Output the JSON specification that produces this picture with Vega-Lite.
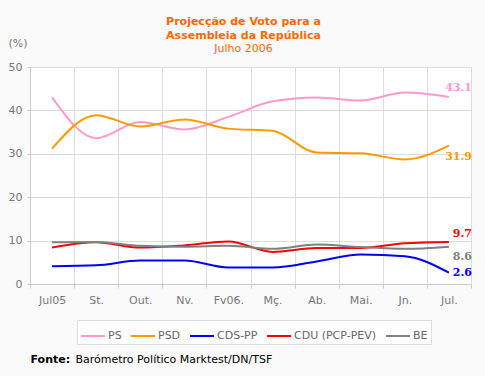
{
  "$schema": "https://vega.github.io/schema/vega-lite/v6.json",
  "width": 441,
  "height": 217,
  "autosize": {"type": "none"},
  "padding": {"left": 30, "top": 67, "right": 14, "bottom": 92},
  "background": "#FAFAFA",
  "title": {
    "text": ["Projecção de Voto para a", "Assembleia da República"],
    "subtitle": "Julho 2006",
    "anchor": "middle",
    "frame": "group",
    "color": "#FF6600",
    "font": "DejaVu Sans",
    "fontSize": 11,
    "fontWeight": "bold",
    "lineHeight": 14,
    "subtitleColor": "#FF6600",
    "subtitleFont": "DejaVu Sans",
    "subtitleFontSize": 11,
    "subtitleFontWeight": "normal",
    "subtitlePadding": 2,
    "offset": -17,
    "dx": -7
  },
  "data": {
    "values": [
      {"month": "Jul05", "party": "PS", "value": 43.0},
      {"month": "St.", "party": "PS", "value": 33.6},
      {"month": "Out.", "party": "PS", "value": 37.3},
      {"month": "Nv.", "party": "PS", "value": 35.6},
      {"month": "Fv06.", "party": "PS", "value": 38.5},
      {"month": "Mç.", "party": "PS", "value": 42.1},
      {"month": "Ab.", "party": "PS", "value": 43.0},
      {"month": "Mai.", "party": "PS", "value": 42.3},
      {"month": "Jn.", "party": "PS", "value": 44.1},
      {"month": "Jul.", "party": "PS", "value": 43.1},
      {"month": "Jul05", "party": "PSD", "value": 31.2},
      {"month": "St.", "party": "PSD", "value": 38.9},
      {"month": "Out.", "party": "PSD", "value": 36.3},
      {"month": "Nv.", "party": "PSD", "value": 37.9},
      {"month": "Fv06.", "party": "PSD", "value": 35.8},
      {"month": "Mç.", "party": "PSD", "value": 35.3},
      {"month": "Ab.", "party": "PSD", "value": 30.3},
      {"month": "Mai.", "party": "PSD", "value": 30.1},
      {"month": "Jn.", "party": "PSD", "value": 28.7},
      {"month": "Jul.", "party": "PSD", "value": 31.9},
      {"month": "Jul05", "party": "CDS-PP", "value": 4.1},
      {"month": "St.", "party": "CDS-PP", "value": 4.3},
      {"month": "Out.", "party": "CDS-PP", "value": 5.4},
      {"month": "Nv.", "party": "CDS-PP", "value": 5.4},
      {"month": "Fv06.", "party": "CDS-PP", "value": 3.8},
      {"month": "Mç.", "party": "CDS-PP", "value": 3.8},
      {"month": "Ab.", "party": "CDS-PP", "value": 5.2},
      {"month": "Mai.", "party": "CDS-PP", "value": 6.8},
      {"month": "Jn.", "party": "CDS-PP", "value": 6.4},
      {"month": "Jul.", "party": "CDS-PP", "value": 2.6},
      {"month": "Jul05", "party": "CDU (PCP-PEV)", "value": 8.4},
      {"month": "St.", "party": "CDU (PCP-PEV)", "value": 9.6},
      {"month": "Out.", "party": "CDU (PCP-PEV)", "value": 8.4},
      {"month": "Nv.", "party": "CDU (PCP-PEV)", "value": 8.9},
      {"month": "Fv06.", "party": "CDU (PCP-PEV)", "value": 9.8},
      {"month": "Mç.", "party": "CDU (PCP-PEV)", "value": 7.4},
      {"month": "Ab.", "party": "CDU (PCP-PEV)", "value": 8.3},
      {"month": "Mai.", "party": "CDU (PCP-PEV)", "value": 8.3},
      {"month": "Jn.", "party": "CDU (PCP-PEV)", "value": 9.4},
      {"month": "Jul.", "party": "CDU (PCP-PEV)", "value": 9.7},
      {"month": "Jul05", "party": "BE", "value": 9.6},
      {"month": "St.", "party": "BE", "value": 9.7},
      {"month": "Out.", "party": "BE", "value": 8.8},
      {"month": "Nv.", "party": "BE", "value": 8.6},
      {"month": "Fv06.", "party": "BE", "value": 8.8},
      {"month": "Mç.", "party": "BE", "value": 8.1},
      {"month": "Ab.", "party": "BE", "value": 9.1},
      {"month": "Mai.", "party": "BE", "value": 8.5},
      {"month": "Jn.", "party": "BE", "value": 8.1},
      {"month": "Jul.", "party": "BE", "value": 8.6}
    ]
  },
  "layer": [
    {
      "mark": {"type": "line", "interpolate": "monotone", "strokeWidth": 2},
      "encoding": {
        "x": {
          "field": "month", "type": "ordinal",
          "sort": ["Jul05", "St.", "Out.", "Nv.", "Fv06.", "Mç.", "Ab.", "Mai.", "Jn.", "Jul."],
          "scale": {"type": "band", "paddingInner": 0, "paddingOuter": 0},
          "axis": {
            "orient": "bottom", "grid": true, "tickBand": "extent", "labelAngle": 0,
            "tickSize": 4, "labelPadding": 6,
            "title": "Barómetro Político Marktest/DN/TSF",
            "titleX": 45, "titleY": 75, "titleAlign": "left", "titleBaseline": "middle",
            "titleAnchor": null, "titleColor": "#000000", "titleFontWeight": "normal",
            "titleFont": "DejaVu Sans", "titleFontSize": 11
          }
        },
        "y": {
          "field": "value", "type": "quantitative",
          "scale": {"domain": [0, 50], "nice": false},
          "axis": {
            "values": [0, 10, 20, 30, 40, 50], "grid": true, "tickSize": 3, "labelPadding": 5,
            "title": "(%)", "titleAngle": 0, "titleX": -22, "titleY": -24,
            "titleAlign": "left", "titleBaseline": "middle", "titleColor": "#777777",
            "titleFontWeight": "normal", "titleFont": "DejaVu Sans", "titleFontSize": 11
          }
        },
        "color": {
          "field": "party", "type": "nominal",
          "scale": {
            "domain": ["PS", "PSD", "CDS-PP", "CDU (PCP-PEV)", "BE"],
            "range": ["#FF99CC", "#FF9900", "#0000FF", "#FF0000", "#808080"]
          },
          "legend": {
            "orient": "none", "legendX": 47, "legendY": 253, "direction": "horizontal",
            "title": null, "symbolType": "stroke", "symbolSize": 576, "symbolStrokeWidth": 2,
            "labelFontSize": 11, "labelColor": "#666666", "labelFont": "DejaVu Sans",
            "fillColor": "white", "strokeColor": "#dddddd", "padding": 3,
            "columnPadding": 5, "labelOffset": 2
          }
        }
      }
    },
    {
      "transform": [{"filter": "datum.party === 'PS' && datum.month === 'Jul.'"}],
      "mark": {"type": "text", "align": "right", "dx": 23, "dy": -9, "font": "DejaVu Serif", "fontWeight": "bold", "fontSize": 11},
      "encoding": {
        "x": {
          "field": "month", "type": "ordinal",
          "sort": ["Jul05", "St.", "Out.", "Nv.", "Fv06.", "Mç.", "Ab.", "Mai.", "Jn.", "Jul."],
          "axis": {
            "orient": "top", "labels": false, "ticks": false, "domain": false, "grid": false,
            "title": "Fonte:", "titleX": 0, "titleY": 292, "titleAlign": "left", "titleBaseline": "middle",
            "titleAnchor": null, "titleColor": "#000000", "titleFontWeight": "bold",
            "titleFont": "DejaVu Sans", "titleFontSize": 11
          }
        },
        "y": {"field": "value", "type": "quantitative"},
        "text": {"field": "value", "type": "quantitative", "format": ".1f"},
        "color": {"field": "party", "type": "nominal", "legend": null}
      }
    },
    {
      "transform": [{"filter": "datum.party === 'PSD' && datum.month === 'Jul.'"}],
      "mark": {"type": "text", "align": "right", "dx": 23, "dy": 11, "font": "DejaVu Serif", "fontWeight": "bold", "fontSize": 11},
      "encoding": {
        "x": {"field": "month", "type": "ordinal", "sort": ["Jul05", "St.", "Out.", "Nv.", "Fv06.", "Mç.", "Ab.", "Mai.", "Jn.", "Jul."], "axis": null},
        "y": {"field": "value", "type": "quantitative"},
        "text": {"field": "value", "type": "quantitative", "format": ".1f"},
        "color": {"field": "party", "type": "nominal", "legend": null}
      }
    },
    {
      "transform": [{"filter": "datum.party === 'CDU (PCP-PEV)' && datum.month === 'Jul.'"}],
      "mark": {"type": "text", "align": "right", "dx": 23, "dy": -8, "font": "DejaVu Serif", "fontWeight": "bold", "fontSize": 11},
      "encoding": {
        "x": {"field": "month", "type": "ordinal", "sort": ["Jul05", "St.", "Out.", "Nv.", "Fv06.", "Mç.", "Ab.", "Mai.", "Jn.", "Jul."], "axis": null},
        "y": {"field": "value", "type": "quantitative"},
        "text": {"field": "value", "type": "quantitative", "format": ".1f"},
        "color": {"field": "party", "type": "nominal", "legend": null}
      }
    },
    {
      "transform": [{"filter": "datum.party === 'BE' && datum.month === 'Jul.'"}],
      "mark": {"type": "text", "align": "right", "dx": 23, "dy": 10, "font": "DejaVu Serif", "fontWeight": "bold", "fontSize": 11},
      "encoding": {
        "x": {"field": "month", "type": "ordinal", "sort": ["Jul05", "St.", "Out.", "Nv.", "Fv06.", "Mç.", "Ab.", "Mai.", "Jn.", "Jul."], "axis": null},
        "y": {"field": "value", "type": "quantitative"},
        "text": {"field": "value", "type": "quantitative", "format": ".1f"},
        "color": {"field": "party", "type": "nominal", "legend": null}
      }
    },
    {
      "transform": [{"filter": "datum.party === 'CDS-PP' && datum.month === 'Jul.'"}],
      "mark": {"type": "text", "align": "right", "dx": 23, "dy": 0, "font": "DejaVu Serif", "fontWeight": "bold", "fontSize": 11},
      "encoding": {
        "x": {"field": "month", "type": "ordinal", "sort": ["Jul05", "St.", "Out.", "Nv.", "Fv06.", "Mç.", "Ab.", "Mai.", "Jn.", "Jul."], "axis": null},
        "y": {"field": "value", "type": "quantitative"},
        "text": {"field": "value", "type": "quantitative", "format": ".1f"},
        "color": {"field": "party", "type": "nominal", "legend": null}
      }
    }
  ],
  "resolve": {"axis": {"x": "independent"}},
  "config": {
    "font": "DejaVu Sans",
    "view": {"stroke": null, "fill": "white"},
    "axis": {
      "labelFont": "DejaVu Sans", "labelFontSize": 11, "labelColor": "#777777",
      "domainColor": "#cccccc", "tickColor": "#cccccc", "gridColor": "#dddddd"
    }
  }
}
